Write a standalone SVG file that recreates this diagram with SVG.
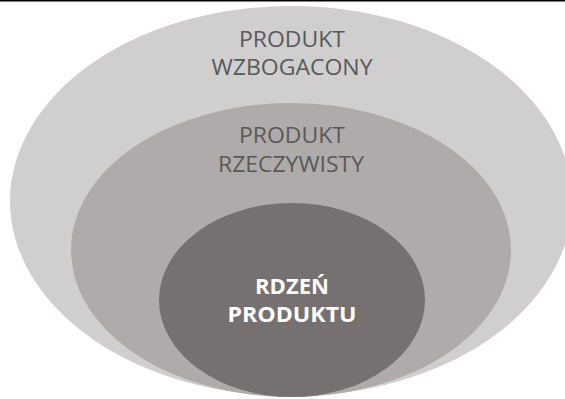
<svg xmlns="http://www.w3.org/2000/svg" width="565" height="399" viewBox="0 0 565 399">
  <style>
    .lbl { font-family: "Open Sans", "Noto Sans", "Liberation Sans", sans-serif; font-size: 22px; text-anchor: middle; fill: #595959; }
    .core { font-family: "Open Sans", "Noto Sans", "Liberation Sans", sans-serif; font-size: 22px; font-weight: bold; text-anchor: middle; fill: #ffffff; }
  </style>
  <rect x="0" y="0" width="565" height="399" fill="#ffffff"/>
  <rect x="0" y="0" width="565" height="1.5" fill="#000000"/>
  <g id="produkt-wzbogacony">
    <ellipse cx="291" cy="201" rx="281" ry="195" fill="#d0cecf"/>
    <text class="lbl" x="292" y="47" textLength="106" lengthAdjust="spacingAndGlyphs">PRODUKT</text>
    <text class="lbl" x="292" y="75" textLength="161" lengthAdjust="spacingAndGlyphs">WZBOGACONY</text>
  </g>
  <g id="produkt-rzeczywisty">
    <ellipse cx="291" cy="250" rx="220" ry="147" fill="#afabaa"/>
    <text class="lbl" x="292" y="143" textLength="106" lengthAdjust="spacingAndGlyphs">PRODUKT</text>
    <text class="lbl" x="291" y="172" textLength="146" lengthAdjust="spacingAndGlyphs">RZECZYWISTY</text>
  </g>
  <g id="rdzen-produktu">
    <ellipse cx="292" cy="300" rx="133" ry="97" fill="#767170"/>
    <text class="core" x="292" y="294" textLength="74" lengthAdjust="spacingAndGlyphs">RDZEŃ</text>
    <text class="core" x="292" y="322" textLength="129" lengthAdjust="spacingAndGlyphs">PRODUKTU</text>
  </g>
</svg>
